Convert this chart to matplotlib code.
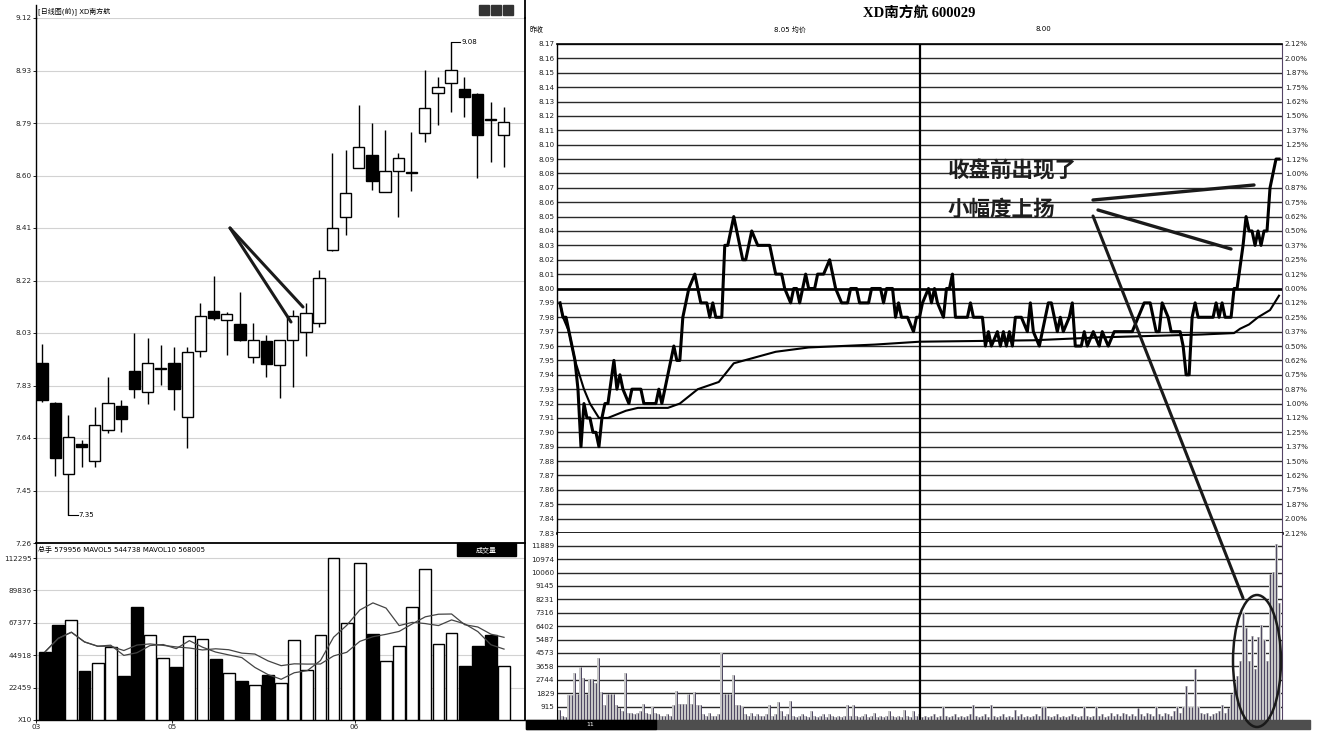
import matplotlib
matplotlib.use('Agg')
import matplotlib.pyplot as plt
import matplotlib.patches as mpatches
import numpy as np
import pandas as pd

plt.rcParams['font.family'] = ['DejaVu Sans', 'Noto Sans CJK SC']

W, H = 1320, 738

# ---------------- daily K chart (left) ----------------
daily_open = [7.913, 7.767, 7.509, 7.617, 7.558, 7.669, 7.756, 7.882, 7.805, 7.889,
              7.913, 7.717, 7.956, 8.100, 8.067, 8.051, 7.934, 7.992, 7.904, 7.995,
              8.023, 8.055, 8.320, 8.439, 8.616, 8.664, 8.529, 8.607, 8.600, 8.745,
              8.887, 8.924, 8.902, 8.884, 8.793, 8.737]
daily_high = [7.980, 7.770, 7.723, 7.633, 7.753, 7.861, 7.778, 8.021, 8.002, 7.977,
              7.968, 7.968, 8.127, 8.227, 8.096, 8.169, 8.057, 8.013, 7.995, 8.103,
              8.130, 8.248, 8.672, 8.682, 8.845, 8.779, 8.755, 8.670, 8.748, 8.972,
              8.948, 9.074, 8.948, 8.890, 8.857, 8.839]
daily_low = [7.771, 7.502, 7.361, 7.536, 7.536, 7.658, 7.663, 7.784, 7.762, 7.832,
             7.741, 7.603, 7.932, 8.067, 7.940, 7.992, 7.910, 7.862, 7.784, 7.823,
             7.937, 8.043, 8.318, 8.375, 8.616, 8.538, 8.529, 8.441, 8.535, 8.711,
             8.773, 8.821, 8.803, 8.582, 8.640, 8.622]
daily_close = [7.778, 7.569, 7.645, 7.609, 7.687, 7.766, 7.709, 7.817, 7.913, 7.892,
               7.816, 7.950, 8.082, 8.075, 8.090, 7.995, 7.995, 7.907, 7.995, 8.082,
               8.091, 8.218, 8.399, 8.526, 8.694, 8.570, 8.606, 8.652, 8.603, 8.833,
               8.909, 8.972, 8.875, 8.737, 8.790, 8.785]
daily_volume = [47345, 65854, 69320, 33967, 39304, 50812, 30500, 78540, 58922, 42770,
                36530, 58229, 55940, 42077, 32788, 27243, 24054, 31194, 25856, 55456,
                34660, 58922, 112000, 67000, 108600, 59400, 40900, 51300, 78100, 104500,
                52500, 60500, 37650, 51300, 58900, 37400]

daily_price_ticks = [7.26, 7.45, 7.64, 7.83, 8.02, 8.21, 8.40, 8.59, 8.78, 8.97, 9.16]
daily_price_labels = ['7.26', '7.45', '7.64', '7.83', '8.03', '8.22', '8.41', '8.60', '8.79', '8.93', '9.12']
daily_vol_ticks = [0, 22459, 44918, 67377, 89836, 112295]
daily_vol_labels = ['X10', '22459', '44918', '67377', '89836', '112295']
month_pos = [-0.7, 9.7, 23.6]
month_labels = ['03', '05', '06']

# ---------------- intraday chart (right) ----------------
prev_close = 8.00
intraday_points = [
    (0, 7.99), (1, 7.98), (2, 7.98), (3, 7.97), (4, 7.96), (5, 7.95), (6, 7.93), (7, 7.89),
    (8, 7.92), (9, 7.91), (10, 7.91), (11, 7.90), (12, 7.90), (13, 7.89), (14, 7.91), (15, 7.92),
    (16, 7.92), (18, 7.95), (19, 7.93), (20, 7.94), (21, 7.93), (23, 7.92), (24, 7.93), (27, 7.93),
    (28, 7.92), (32, 7.92), (33, 7.93), (34, 7.92), (36, 7.94), (38, 7.96), (39, 7.95), (40, 7.95),
    (41, 7.98), (42, 7.99), (43, 8.00), (45, 8.01), (46, 8.00), (47, 7.99), (49, 7.99), (50, 7.98),
    (51, 7.99), (52, 7.98), (54, 7.98), (55, 8.03), (56, 8.03), (57, 8.04), (58, 8.05), (59, 8.04),
    (61, 8.02), (62, 8.02), (64, 8.04), (66, 8.03), (70, 8.03), (72, 8.01), (74, 8.01), (75, 8.00),
    (77, 7.99), (78, 8.00), (79, 8.00), (80, 7.99), (82, 8.01), (83, 8.00), (85, 8.00), (86, 8.01),
    (88, 8.01), (90, 8.02), (92, 8.00), (94, 7.99), (96, 7.99), (97, 8.00), (99, 8.00), (100, 7.99),
    (103, 7.99), (104, 8.00), (107, 8.00), (108, 7.99), (109, 8.00), (111, 8.00), (112, 7.98),
    (113, 7.99), (114, 7.98), (116, 7.98), (118, 7.97), (119, 7.98), (120, 7.98), (121, 7.99),
    (123, 8.00), (124, 7.99), (125, 8.00), (126, 7.99), (128, 7.98), (129, 8.00), (130, 8.00),
    (131, 8.01), (132, 7.98), (136, 7.98), (137, 7.99), (138, 7.98), (141, 7.98), (142, 7.96),
    (143, 7.97), (144, 7.96), (146, 7.97), (147, 7.96), (148, 7.97), (149, 7.96), (150, 7.97),
    (151, 7.96), (152, 7.98), (154, 7.98), (156, 7.97), (157, 7.99), (158, 7.97), (160, 7.96),
    (161, 7.97), (163, 7.99), (164, 7.99), (166, 7.97), (167, 7.98), (168, 7.97), (170, 7.98),
    (171, 7.99), (172, 7.96), (174, 7.96), (175, 7.97), (176, 7.96), (178, 7.97), (180, 7.96),
    (181, 7.97), (183, 7.96), (185, 7.97), (191, 7.97), (193, 7.98), (195, 7.99), (197, 7.99),
    (198, 7.98), (199, 7.97), (200, 7.97), (201, 7.99), (203, 7.98), (204, 7.97), (207, 7.97),
    (208, 7.96), (209, 7.94), (210, 7.94), (211, 7.98), (212, 7.99), (213, 7.98), (218, 7.98),
    (219, 7.99), (220, 7.98), (221, 7.99), (222, 7.98), (224, 7.98), (225, 8.00), (226, 8.00),
    (228, 8.03), (229, 8.05), (230, 8.04), (231, 8.04), (232, 8.03), (233, 8.04), (234, 8.03),
    (235, 8.04), (236, 8.04), (237, 8.07), (238, 8.08), (239, 8.09), (240, 8.09)]
avg_points = [
    (0, 7.99), (1, 7.98), (3, 7.97), (5, 7.95), (8, 7.93), (10, 7.92), (13, 7.91), (16, 7.91),
    (22, 7.915), (26, 7.917), (36, 7.917), (40, 7.92), (46, 7.93), (53, 7.935), (58, 7.948),
    (65, 7.952), (72, 7.956), (83, 7.959), (105, 7.961), (120, 7.963), (158, 7.964),
    (180, 7.966), (214, 7.968), (225, 7.969), (227, 7.972), (230, 7.975), (233, 7.98),
    (237, 7.985), (240, 7.995)]
minute_volume = [
    700, 300, 200, 1700, 1700, 3200, 1800, 3650, 2900, 1800,
    2800, 2800, 2500, 4200, 1900, 1000, 1800, 1800, 1800, 1000,
    800, 600, 3200, 500, 500, 400, 500, 600, 1100, 500,
    400, 900, 500, 400, 300, 300, 400, 300, 1000, 2000,
    1100, 1100, 1100, 1800, 1100, 1900, 1000, 1000, 400, 300,
    500, 300, 300, 400, 4550, 1800, 1800, 1800, 3100, 1000,
    1000, 900, 400, 300, 500, 300, 400, 300, 300, 400,
    1000, 300, 400, 1200, 600, 300, 400, 1300, 300, 200,
    300, 400, 300, 200, 600, 300, 200, 300, 400, 200,
    400, 300, 200, 300, 200, 300, 1000, 300, 1000, 300,
    200, 300, 400, 200, 300, 500, 200, 300, 200, 300,
    600, 300, 200, 300, 200, 700, 300, 200, 600, 300,
    400, 200, 300, 200, 300, 400, 200, 300, 900, 300,
    200, 300, 400, 200, 300, 200, 300, 400, 1000, 300,
    200, 300, 400, 200, 1000, 300, 200, 300, 400, 200,
    300, 200, 700, 300, 400, 200, 300, 200, 300, 400,
    300, 900, 900, 300, 200, 300, 400, 200, 300, 200,
    300, 400, 300, 200, 300, 900, 300, 200, 300, 900,
    300, 400, 200, 300, 500, 300, 400, 300, 500, 400,
    300, 400, 300, 800, 400, 300, 500, 400, 300, 900,
    400, 300, 500, 400, 300, 600, 900, 500, 900, 2350,
    900, 900, 3500, 900, 500, 400, 500, 300, 400, 500,
    600, 1000, 500, 800, 1800, 2500, 3000, 4000, 7300, 6300,
    4000, 5700, 3500, 5650, 6460, 5440, 4000, 9970, 10100, 12000,
    8000]
intraday_price_ticks = [round(7.83 + 0.01 * k, 2) for k in range(35)]
intraday_vol_ticks = [915, 1829, 2744, 3658, 4573, 5487, 6402, 7316, 8231, 9145, 10060, 10974, 11889]


def px(x0, y0, x1, y1):
    """pixel box -> figure fraction rect"""
    return [x0 / W, 1 - y1 / H, (x1 - x0) / W, (y1 - y0) / H]


fig = plt.figure(figsize=(W / 100, H / 100), dpi=100)
fig.patch.set_facecolor('white')

TICK_FS = 5.2

# ---- left: candles ----
axL = fig.add_axes(px(36, 18, 525, 543))
idx = np.arange(len(daily_close))
o = np.array(daily_open)
c = np.array(daily_close)
up = c >= o
body_col = np.where(up, 'white', 'black')

axL.vlines(idx, daily_low, daily_high, color='black', lw=1.0, zorder=2)
axL.bar(idx, np.maximum(np.abs(c - o), 0.003), bottom=np.minimum(o, c), width=0.85,
        color=body_col, edgecolor='black', lw=1.0, zorder=3)
for t in daily_price_ticks:
    axL.axhline(t, color='#d2d2d2', lw=0.8, zorder=1)
axL.set_xlim(-0.45, 36.6)
axL.set_ylim(daily_price_ticks[0], daily_price_ticks[-1])
axL.set_yticks(daily_price_ticks)
axL.set_yticklabels(daily_price_labels, fontsize=TICK_FS, color='#222')
axL.set_xticks([])
axL.tick_params(axis='y', length=2, width=0.6, pad=1)
for s in ['top', 'bottom']:
    axL.spines[s].set_visible(False)
axL.spines['left'].set_linewidth(1.0)
axL.spines['right'].set_linewidth(1.3)

hi_i = int(np.argmax(daily_high))
lo_i = int(np.argmin(daily_low))
axL.plot([hi_i, hi_i + 0.7], [daily_high[hi_i], daily_high[hi_i]], color='black', lw=0.8)
axL.text(hi_i + 0.8, daily_high[hi_i], '9.08', fontsize=5, va='center')
axL.plot([lo_i, lo_i + 0.7], [daily_low[lo_i], daily_low[lo_i]], color='black', lw=0.8)
axL.text(lo_i + 0.8, daily_low[lo_i], '7.35', fontsize=5, va='center')

# ---- left: volume ----
axLV = fig.add_axes(px(36, 543, 525, 720))
axLV.bar(idx, daily_volume, width=0.9, color=body_col, edgecolor='black', lw=1.0, zorder=3)
vol_s = pd.Series(daily_volume, dtype='float64')
axLV.plot(idx, vol_s.rolling(5, min_periods=1).mean(), color='#444', lw=0.9, zorder=4)
axLV.plot(idx, vol_s.rolling(10, min_periods=1).mean(), color='#444', lw=0.9, zorder=4)
for t in daily_vol_ticks[1:]:
    axLV.axhline(t, color='#d2d2d2', lw=0.8, zorder=1)
axLV.set_xlim(-0.45, 36.6)
axLV.set_ylim(0, 122693)
axLV.set_yticks(daily_vol_ticks)
axLV.set_yticklabels(daily_vol_labels, fontsize=TICK_FS, color='#222')
axLV.set_xticks(month_pos)
axLV.set_xticklabels(month_labels, fontsize=TICK_FS, color='#222')
axLV.tick_params(length=2, width=0.6, pad=1)
axLV.spines['top'].set_linewidth(1.3)
axLV.spines['right'].set_linewidth(1.3)
axLV.spines['left'].set_linewidth(1.0)
axLV.spines['bottom'].set_linewidth(1.0)

# ---- right: intraday price ----
p_min, p_val = zip(*intraday_points)
a_min, a_val = zip(*avg_points)

axR = fig.add_axes(px(557, 44, 1282, 533))
for t in intraday_price_ticks:
    axR.axhline(t, color='#2a2a2a', lw=1.0, zorder=1)
axR.axhline(prev_close, color='black', lw=1.9, zorder=2)
axR.axvline(120, color='black', lw=1.6, zorder=2)
axR.plot(a_min, a_val, color='black', lw=1.5, zorder=3)
axR.plot(p_min, p_val, color='black', lw=2.2, zorder=4)
axR.set_xlim(-1, 241)
axR.set_ylim(7.83, 8.17)
axR.set_xticks([])
axR.set_yticks(intraday_price_ticks)
axR.set_yticklabels([f'{t:.2f}' for t in intraday_price_ticks], fontsize=TICK_FS, color='#222')
axR.tick_params(axis='y', length=0, pad=2)
axR.spines['bottom'].set_linewidth(1.9)
axR.spines['top'].set_linewidth(1.2)
axR.spines['left'].set_linewidth(1.0)
axR.spines['right'].set_color('#554466')

pct_labels = []
for t in intraday_price_ticks:
    pct = np.floor(abs(t - prev_close) / prev_close * 10000 + 1e-6) / 100
    pct_labels.append(f'{pct:.2f}%')
axR2 = axR.twinx()
axR2.set_ylim(7.83, 8.17)
axR2.set_yticks(intraday_price_ticks)
axR2.set_yticklabels(pct_labels, fontsize=TICK_FS, color='#222')
axR2.tick_params(axis='y', length=0, pad=2)
for s in axR2.spines.values():
    s.set_visible(False)

# ---- right: intraday volume ----
axRV = fig.add_axes(px(557, 533, 1282, 720))
minutes = np.arange(len(minute_volume))
for t in intraday_vol_ticks:
    axRV.axhline(t, color='#2a2a2a', lw=1.0, zorder=1)
axRV.bar(minutes, minute_volume, width=1.0, color='#c6c6c6', zorder=2)
axRV.vlines(minutes, 0, minute_volume, color='#4d4660', lw=0.7, zorder=3)
axRV.axvline(120, color='black', lw=1.6, zorder=4)
axRV.set_xlim(-1, 241)
axRV.set_ylim(0, 12760)
axRV.set_xticks([])
axRV.set_yticks(intraday_vol_ticks)
axRV.set_yticklabels([str(t) for t in intraday_vol_ticks], fontsize=TICK_FS, color='#222')
axRV.tick_params(axis='y', length=0, pad=2)
axRV.spines['top'].set_visible(False)
axRV.spines['bottom'].set_visible(False)
axRV.spines['right'].set_color('#554466')

# ---- overlay: headers, strip, hand drawn notes ----
ov = fig.add_axes([0, 0, 1, 1], zorder=10)
ov.set_xlim(0, W)
ov.set_ylim(H, 0)
ov.axis('off')
ov.patch.set_alpha(0)

ov.plot([36, 36], [5, 18], color='black', lw=1.0)
ov.plot([525, 525], [0, 18], color='black', lw=1.3)
ov.text(38, 11, '[日线图(前)] XD南方航', fontsize=5, va='center')
for k in range(3):
    ov.add_patch(mpatches.Rectangle((479 + k * 12, 5), 10, 10, color='#333'))
ov.text(38, 549, '总手 579956 MAVOL5 544738 MAVOL10 568005', fontsize=5, va='center')
ov.add_patch(mpatches.Rectangle((457, 543), 59, 13, color='black'))
ov.text(486, 549.5, '成交量', fontsize=5, color='white', ha='center', va='center')

ov.text(919, 13, 'XD南方航 600029', fontsize=10.5, fontweight='bold', ha='center', va='center',
        family=['Liberation Serif', 'Noto Sans CJK SC'])
ov.text(530, 29, '昨收', fontsize=5, va='center')
ov.text(790, 29, '8.05 均价', fontsize=5, va='center', ha='center')
ov.text(1043, 29, '8.00', fontsize=5, va='center', ha='center')

# bottom scroll strip
ov.add_patch(mpatches.Rectangle((526, 720), 784, 9, color='#4e4e4e'))
ov.add_patch(mpatches.Rectangle((526, 720), 130, 9, color='black'))
ov.text(590, 725, '11', fontsize=4.5, color='white', ha='center', va='center')

# notes
ov.plot([230, 291], [228, 322], color='#1a1a1a', lw=2.2, solid_capstyle='round')
ov.plot([230, 303], [228, 307], color='#1a1a1a', lw=2.2, solid_capstyle='round')
ov.text(948, 171, '收盘前出现了', fontsize=15.5, fontweight='bold', color='#1e1e1e', va='center',
        family=['Noto Sans CJK SC'])
ov.text(948, 209, '小幅度上扬', fontsize=15.5, fontweight='bold', color='#1e1e1e', va='center',
        family=['Noto Sans CJK SC'])
ov.plot([1093, 1254], [200, 185], color='#1a1a1a', lw=2.4, solid_capstyle='round')
ov.plot([1098, 1231], [210, 249], color='#1a1a1a', lw=2.4, solid_capstyle='round')
ov.plot([1093, 1243], [216, 598], color='#1a1a1a', lw=2.2, solid_capstyle='round')
ov.add_patch(mpatches.Ellipse((1257, 661), 48, 132, fill=False, color='#1a1a1a', lw=1.8))

fig.savefig('out.png', dpi=100, facecolor='white')
